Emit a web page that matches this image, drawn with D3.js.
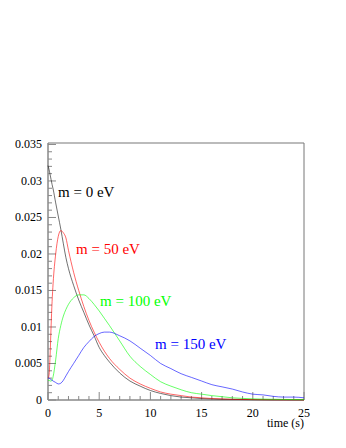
<!DOCTYPE html>
<html>
<head>
<meta charset="utf-8">
<script src="https://cdnjs.cloudflare.com/ajax/libs/d3/7.8.5/d3.min.js"></script>
<style>
  body { margin: 0; background: #fff; }
  svg text { font-family: "Liberation Serif", "Times New Roman", serif; }
</style>
</head>
<body>
<div id="chart"></div>
<script>
// time axis (s) shared by all curves
var timeS = [0, 0.1, 0.2, 0.3, 0.4, 0.5, 0.75, 1, 1.25, 1.5, 1.75, 2, 2.5, 3, 3.5, 4, 4.5, 5, 5.5, 6,
  7, 8, 9, 10, 11, 12, 13, 14, 15, 16, 17, 18, 19, 20, 21, 22, 23, 24, 25];

var m0 = [0.0321, 0.0316, 0.0309, 0.0302, 0.0295, 0.0289, 0.0270, 0.0252, 0.0234, 0.0214, 0.0195, 0.0180, 0.0157, 0.0137, 0.0120, 0.0103, 0.0088, 0.0072, 0.0061, 0.0052,
  0.0037, 0.0026, 0.0019, 0.0013, 0.0009, 0.0006, 0.0004, 0.0003, 0.0002, 0.00015, 0.0001, 0.00008, 0.00006, 0.00004, 0.00003, 0.00002, 0.00002, 0.00001, 0.00001];
var m50 = [0.0030, 0.0034, 0.0060, 0.0100, 0.0135, 0.0160, 0.0200, 0.0224, 0.0232, 0.0229, 0.0222, 0.0205, 0.0175, 0.0150, 0.0128, 0.0109, 0.0093, 0.0079, 0.0067, 0.0057,
  0.0042, 0.0030, 0.0022, 0.0016, 0.0011, 0.0008, 0.0006, 0.0004, 0.0003, 0.0002, 0.00015, 0.0001, 0.00008, 0.00006, 0.00004, 0.00003, 0.00002, 0.00002, 0.00001];
var m100 = [0.0027, 0.0027, 0.0026, 0.0026, 0.0027, 0.0032, 0.0055, 0.0084, 0.0102, 0.0115, 0.0124, 0.0131, 0.0140, 0.0144, 0.0144, 0.0139, 0.0131, 0.0122, 0.0112, 0.0102,
  0.0081, 0.0060, 0.0046, 0.0035, 0.0025, 0.0019, 0.0014, 0.0010, 0.0008, 0.0006, 0.00045, 0.0003, 0.00022, 0.00016, 0.00012, 0.0001, 0.00008, 0.00006, 0.00005];
var m150 = [0.0030, 0.0030, 0.0029, 0.0028, 0.0027, 0.0026, 0.0024, 0.0022, 0.0023, 0.0027, 0.0033, 0.0039, 0.0050, 0.0061, 0.0072, 0.0080, 0.0087, 0.0091, 0.0093, 0.0093,
  0.0088, 0.0081, 0.0071, 0.0061, 0.0050, 0.0043, 0.0036, 0.0031, 0.0026, 0.0021, 0.0018, 0.0015, 0.0011, 0.0008, 0.0007, 0.0005, 0.0004, 0.0004, 0.0003];

var seriesNames = ["m = 0 eV", "m = 50 eV", "m = 100 eV", "m = 150 eV"];
var seriesColors = ["#000000", "#ff0000", "#00ff00", "#0000ff"];
var seriesValues = [m0, m50, m100, m150];
var xTicks = [0, 5, 10, 15, 20, 25];
var yTicks = [0, 0.005, 0.01, 0.015, 0.02, 0.025, 0.03, 0.035];

var W = 346, H = 448;
var pLeft = 48, pRight = 304, pTop = 143, pBottom = 400;

var svg = d3.select("#chart").append("svg").attr("width", W).attr("height", H)

var x = d3.scaleLinear().domain([0, 25]).range([pLeft, pRight]);
var y = d3.scaleLinear().domain([0, 0.0352]).range([pBottom, pTop]);

// frame
svg.append("line").attr("x1", pLeft).attr("x2", pRight).attr("y1", pTop).attr("y2", pTop)
  .attr("stroke", "#bbbbbb").attr("stroke-width", 2)
svg.append("line").attr("x1", pRight).attr("x2", pRight).attr("y1", pTop).attr("y2", pBottom)
  .attr("stroke", "#777777").attr("stroke-width", 1)

// x axis, ticks pointing into the plot
var xMinor = d3.range(0, 26, 1)
svg.selectAll(".xminor").data(xMinor).enter().append("line")
  .attr("x1", d => x(d)).attr("x2", d => x(d))
  .attr("y1", pBottom).attr("y2", d => d % 5 === 0 ? pBottom - 8 : pBottom - 4)
  .attr("stroke", "#888").attr("stroke-width", 1)
svg.append("line").attr("x1", pLeft).attr("x2", pRight).attr("y1", pBottom).attr("y2", pBottom)
  .attr("stroke", "#888").attr("stroke-width", 1.5)
svg.selectAll(".xlab").data(xTicks).enter().append("text")
  .attr("x", d => x(d)).attr("y", 417).attr("text-anchor", "middle")
  .attr("font-size", 12).text(d => d)
svg.append("text").attr("x", pRight).attr("y", 427).attr("text-anchor", "end")
  .attr("font-size", 12).text("time (s)")

// y axis
var yMinor = d3.range(0, 36).map(i => i * 0.001)
svg.selectAll(".yminor").data(yMinor).enter().append("line")
  .attr("x1", pLeft).attr("x2", (d, i) => i % 5 === 0 ? pLeft + 8 : pLeft + 4)
  .attr("y1", d => y(d)).attr("y2", d => y(d))
  .attr("stroke", "#888").attr("stroke-width", 1)
svg.append("line").attr("x1", pLeft).attr("x2", pLeft).attr("y1", pTop).attr("y2", pBottom)
  .attr("stroke", "#888").attr("stroke-width", 1.5)
svg.selectAll(".ylab").data(yTicks).enter().append("text")
  .attr("x", 42).attr("y", d => y(d) + 4).attr("text-anchor", "end")
  .attr("font-size", 12).text(d => d === 0 ? "0" : d3.format(".3~f")(d))

// curves
var line = d3.line().x(d => x(d[0])).y(d => y(d[1])).curve(d3.curveMonotoneX)
seriesValues.forEach(function(vals, k) {
  svg.append("path")
    .datum(timeS.map((t, i) => [t, vals[i]]))
    .attr("d", line)
    .attr("fill", "none")
    .attr("stroke", seriesColors[k])
    .attr("stroke-width", 0.8)
    .attr("stroke-opacity", k === 0 ? 0.7 : 0.75)
})

// curve labels
var labelX = [58, 76, 100, 155];
var labelY = [197, 254, 306, 349];
svg.selectAll(".clab").data(seriesNames).enter().append("text")
  .attr("x", (d, i) => labelX[i]).attr("y", (d, i) => labelY[i])
  .attr("font-size", 15).attr("fill", (d, i) => seriesColors[i])
  .text(d => d)
</script>
</body>
</html>
